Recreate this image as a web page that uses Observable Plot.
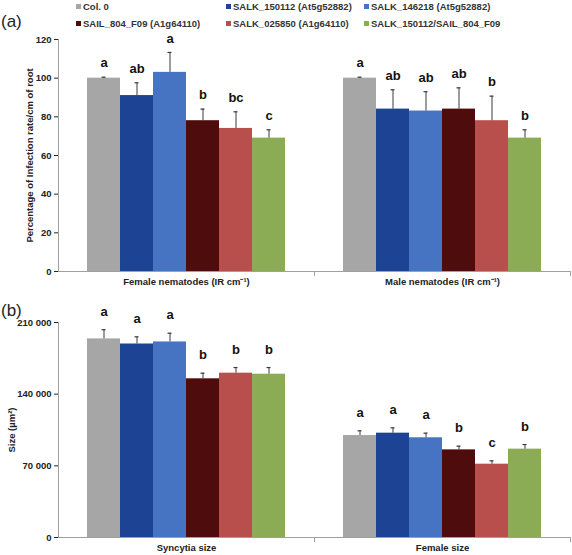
<!DOCTYPE html>
<html>
<head>
<meta charset="utf-8">
<script src="https://cdn.jsdelivr.net/npm/d3@7"></script>
<script src="https://cdn.jsdelivr.net/npm/@observablehq/plot@0.6"></script>
<style>
  body { margin: 0; background: #fff; }
  #wrap { position: relative; width: 572px; height: 555px; font-family: "Liberation Sans", Arial, sans-serif; overflow: hidden; }
  .leg { position: absolute; font-size: 9.5px; font-weight: bold; color: #333; white-space: nowrap; line-height: 10px; }
  .leg i { display: inline-block; width: 5px; height: 5px; margin-right: 2px; vertical-align: 1px; }
  .panel { position: absolute; font-size: 17px; color: #222; }
  svg { position: absolute; left: 0; overflow: visible; }
</style>
</head>
<body>
<div id="wrap"></div>
<script>
const genotypes = ["Col. 0", "SALK_150112 (At5g52882)", "SALK_146218 (At5g52882)", "SAIL_804_F09 (A1g64110)", "SALK_025850 (A1g64110)", "SALK_150112/SAIL_804_F09"];
const colors = ["#a6a6a6", "#1d4394", "#4673c2", "#4f0c0c", "#b84f4c", "#8bac55"];

const groupsA = ["Female nematodes (IR cm⁻¹)", "Male nematodes (IR cm⁻¹)"];
const femaleNem = [100, 91, 103, 78, 74, 69];
const femaleNemErr = [0.5, 6.6, 10.3, 6, 8.6, 4.3];
const femaleNemLetters = ["a", "ab", "a", "b", "bc", "c"];
const maleNem = [100, 84, 83, 84, 78, 69];
const maleNemErr = [0.5, 10, 10, 11, 12.7, 4.3];
const maleNemLetters = ["a", "ab", "ab", "ab", "b", "b"];
const ticksA = [0, 20, 40, 60, 80, 100, 120];

const groupsB = ["Syncytia size", "Female size"];
const syncytia = [194000, 189000, 191000, 155000, 160500, 159500];
const syncytiaErr = [9000, 7000, 8500, 5500, 5500, 6500];
const syncytiaLetters = ["a", "a", "a", "b", "b", "b"];
const femaleSize = [99600, 101900, 97400, 85600, 71600, 86300];
const femaleSizeErr = [4600, 5200, 4500, 3600, 3300, 4500];
const femaleSizeLetters = ["a", "a", "a", "b", "c", "b"];
const ticksB = [0, 70000, 140000, 210000];

function rows(group, vals, errs, letters) {
  return genotypes.map((g, i) => ({group, g, v: vals[i], e: errs[i], l: letters[i]}));
}
const dataA = [...rows(groupsA[0], femaleNem, femaleNemErr, femaleNemLetters), ...rows(groupsA[1], maleNem, maleNemErr, maleNemLetters)];
const dataB = [...rows(groupsB[0], syncytia, syncytiaErr, syncytiaLetters), ...rows(groupsB[1], femaleSize, femaleSizeErr, femaleSizeLetters)];

const axisGray = "#a0a0a0";
const wrap = document.getElementById("wrap");

// Legend
const legPos = [[76, 2], [226, 2], [364, 2], [76, 19], [226, 19], [364, 19]];
genotypes.forEach((g, i) => {
  const d = document.createElement("div");
  d.className = "leg";
  d.style.left = legPos[i][0] + "px";
  d.style.top = legPos[i][1] + "px";
  d.innerHTML = `<i style="background:${colors[i]}"></i>` + g;
  wrap.appendChild(d);
});
[["(a)", 1, 12], ["(b)", 1, 301]].forEach(([t, x, y]) => {
  const d = document.createElement("div");
  d.className = "panel";
  d.style.left = x + "px"; d.style.top = y + "px";
  d.textContent = t;
  wrap.appendChild(d);
});

function panel({data, groups, yDomain, ticks, tickFormat, yLabel, labelOffset, height, marginTop, marginBottom, letterDy, top}) {
  const innerH = height - marginTop - marginBottom;
  const p = Plot.plot({
    width: 572, height, marginTop, marginBottom, marginLeft: 57, marginRight: 2,
    style: {fontFamily: "'Liberation Sans', Arial, sans-serif", fontSize: "9.5px", fontWeight: "bold", color: "#222", background: "transparent", overflow: "visible"},
    fx: {domain: groups, padding: 0, label: null, tickSize: 0, tickPadding: 7, axis: "bottom"},
    x: {domain: genotypes, paddingInner: 0, paddingOuter: 0.79, axis: null},
    y: {domain: yDomain, ticks, tickFormat, tickSize: 4, tickPadding: 3, label: yLabel, labelAnchor: "center", labelArrow: "none", labelOffset},
    color: {domain: genotypes, range: colors},
    marks: [
      Plot.frame({anchor: "left", facetAnchor: "left", stroke: axisGray}),
      Plot.frame({anchor: "right", insetTop: innerH, insetBottom: -4, stroke: axisGray}),
      Plot.barY(data, {fx: "group", x: "g", y: "v", fill: "g"}),
      Plot.ruleY([0], {stroke: axisGray}),
      Plot.ruleX(data, {fx: "group", x: "g", y1: "v", y2: d => d.v + d.e, stroke: "#3a3a3a", strokeWidth: 1}),
      Plot.tickY(data, {fx: "group", x: "g", y: d => d.v + d.e, stroke: "#3a3a3a", strokeWidth: 1.2, insetLeft: 14.5, insetRight: 14.5}),
      Plot.text(data, {fx: "group", x: "g", y: d => d.v + d.e, text: "l", dy: letterDy, fontSize: 13, fontWeight: "bold", fill: "#111"})
    ]
  });
  p.style.top = top + "px";
  wrap.appendChild(p);
}

panel({data: dataA, groups: groupsA, yDomain: [0, 120], ticks: ticksA, tickFormat: d => String(d),
  yLabel: "Percentage of Infection rate/cm of root", labelOffset: 32,
  height: 265, marginTop: 9, marginBottom: 24, letterDy: -14, top: 30});

panel({data: dataB, groups: groupsB, yDomain: [0, 210000], ticks: ticksB,
  tickFormat: d => d3.format(",")(d).replace(/,/g, " "),
  yLabel: "Size (µm²)", labelOffset: 50,
  height: 260, marginTop: 27, marginBottom: 18, letterDy: -18, top: 295});
</script>
</body>
</html>
